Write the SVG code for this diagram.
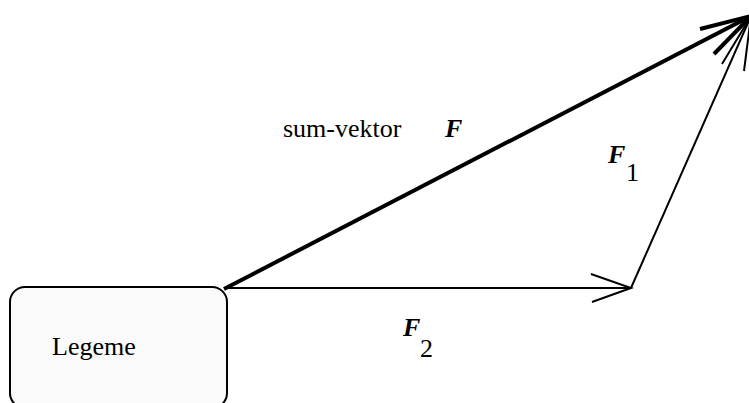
<svg xmlns="http://www.w3.org/2000/svg" width="749" height="403" viewBox="0 0 749 403">
<style>
.t{font-family:"Liberation Serif","Times New Roman",serif;font-size:26px;fill:#000}
.b{font-weight:bold;font-style:italic}
.thick{stroke:#000;stroke-width:4;fill:none;stroke-linecap:butt}
.thin{stroke:#000;stroke-width:2;fill:none}
</style>
<rect width="749" height="403" fill="#fff"/>
<g id="legeme">
<rect x="10" y="287" width="217" height="121" rx="15" ry="15" fill="#fafafa" stroke="#000" stroke-width="2"/>
<text class="t" x="52" y="355">Legeme</text>
</g>
<g id="connectors">
<line class="thick" x1="224" y1="289" x2="751" y2="16"/>
<line class="thick" x1="700" y1="29" x2="751" y2="16"/>
<line class="thick" x1="714" y1="54" x2="751" y2="16"/>
<line class="thin" x1="226" y1="288" x2="631" y2="288"/>
<polyline class="thin" points="591,274 631,288 592,302"/>
<line class="thin" x1="631" y1="288" x2="751" y2="16"/>
<line class="thin" x1="722" y1="64" x2="751" y2="16"/>
<line class="thin" x1="744" y1="71" x2="751" y2="16"/>
</g>
<g id="labels">
<text class="t" x="283" y="137">sum-vektor</text>
<text class="t b" x="445" y="137">F</text>
<text class="t b" x="608" y="163">F</text>
<text class="t" x="626" y="181">1</text>
<text class="t b" x="403" y="336">F</text>
<text class="t" x="420" y="357">2</text>
</g>
</svg>
